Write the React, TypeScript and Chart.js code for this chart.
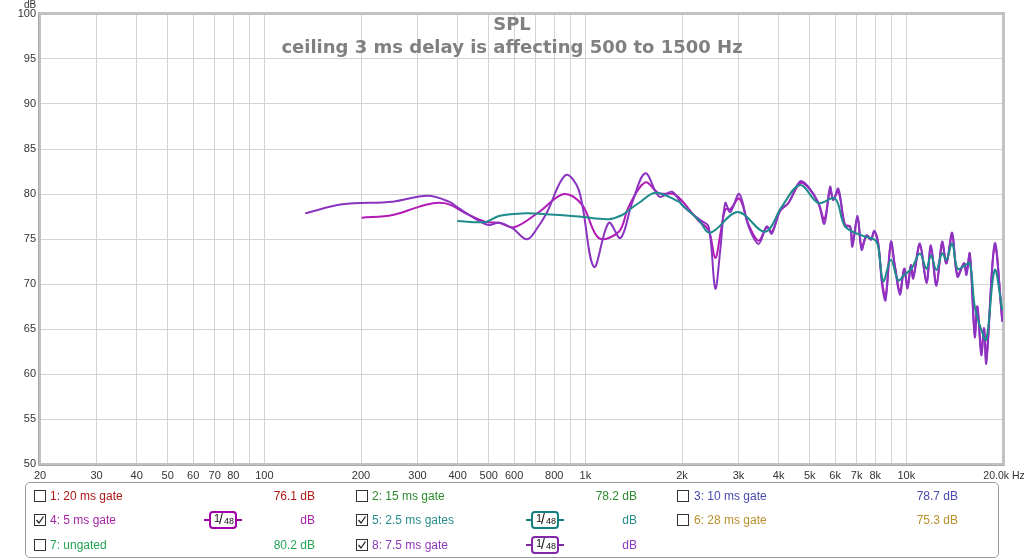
import React, { useEffect, useRef } from 'react';
import { Chart, registerables } from 'chart.js';

Chart.register(...registerables);

// ---------- axis data ----------
const xGridValues = [20, 30, 40, 50, 60, 70, 80, 90, 100, 200, 300, 400, 500, 600, 700, 800, 900, 1000, 2000, 3000, 4000, 5000, 6000, 7000, 8000, 9000, 10000, 20000];
const xGridLabels = ['20', '30', '40', '50', '60', '70', '80', '', '100', '200', '300', '400', '500', '600', '', '800', '', '1k', '2k', '3k', '4k', '5k', '6k', '7k', '8k', '', '10k', ''];
const xLastLabel = '20.0k';
const xUnit = 'Hz';
const yUnit = 'dB';
const yMin = 50;
const yMax = 100;
const yStep = 5;

// ---------- series: 5: 2.5 ms gates (teal) ----------
const tealFreq = [399, 489, 538, 652, 752, 955, 1183, 1302, 1365, 1467, 1653, 1953, 2000, 2254, 2450, 2985, 3632, 4092, 4667, 5320, 5996, 6440, 7254, 7982, 8175, 8473, 8950, 9432, 9846, 10374, 11016, 11552, 11921, 12406, 12926, 13330, 13886, 14424, 15127, 15762, 16332, 17122, 17745, 18845, 19900];
const tealDb = [77.0, 76.9, 77.55, 77.85, 77.75, 77.5, 77.2, 77.67, 78.2, 79.0, 80.15, 79.15, 78.8, 77.1, 75.7, 78.0, 75.8, 78.6, 81.0, 79.0, 79.5, 76.4, 75.4, 74.9, 74.1, 70.3, 72.7, 70.4, 71.0, 71.7, 73.4, 71.7, 73.2, 71.56, 73.4, 72.7, 74.5, 71.7, 72.0, 72.3, 67.5, 64.9, 63.8, 71.56, 67.1];

// ---------- series: 8: 7.5 ms gate (purple) ----------
const purpleFreq = [134, 175, 251, 322, 376, 404, 467, 501, 538, 592, 659, 717, 760, 868, 955, 1063, 1183, 1287, 1398, 1538, 1700, 1862, 2024, 2280, 2420, 2539, 2632, 2728, 2828, 3016, 3224, 3463, 3674, 3808, 4044, 4292, 4667, 4952, 5320, 5554, 5785, 5923, 6138, 6440, 6676, 6788, 7048, 7254, 7516, 7758, 7943, 8175, 8400, 8612, 8950, 9212, 9548, 9846, 10084, 10330, 10503, 11016, 11552, 11921, 12406, 12926, 13330, 13886, 14424, 15127, 15384, 15762, 16332, 16636, 17122, 17458, 17745, 18845, 19900];
const purpleDb = [77.85, 78.85, 79.15, 79.8, 79.15, 78.4, 77.0, 76.55, 76.8, 76.2, 74.97, 76.5, 78.0, 82.1, 80.4, 71.9, 76.8, 75.1, 79.0, 82.3, 79.7, 80.25, 78.6, 77.1, 76.4, 69.5, 73.8, 79.0, 78.0, 80.0, 76.4, 74.45, 76.4, 75.6, 78.2, 79.0, 81.4, 80.8, 79.0, 76.7, 80.8, 79.3, 80.6, 76.4, 76.4, 74.15, 77.55, 73.8, 75.4, 74.9, 75.9, 74.5, 69.9, 68.2, 74.7, 71.9, 68.8, 71.7, 69.5, 72.1, 70.6, 74.5, 70.1, 74.3, 69.8, 74.7, 72.3, 75.7, 70.8, 72.3, 71.0, 73.4, 64.1, 67.5, 62.1, 65.1, 61.2, 74.5, 65.8];

// ---------- series: 4: 5 ms gate (magenta) ----------
const magentaFreq = [201, 251, 304, 342, 376, 424, 489, 538, 600, 717, 857, 977, 1102, 1271, 1365, 1538, 1692, 1908, 2254, 2420, 2539, 2632, 2728, 2828, 3016, 3224, 3463, 3674, 3808, 4044, 4292, 4667, 4952, 5320, 5554, 5785, 5923, 6138, 6440, 6676, 6788, 7048, 7254, 7516, 7758, 7943, 8175, 8400, 8612, 8950, 9212, 9548, 9846, 10084, 10330, 10503, 11016, 11552, 11921, 12406, 12926, 13330, 13886, 14424, 15127, 15384, 15762, 16332, 16636, 17122, 17458, 17745, 18845, 19900];
const magentaDb = [77.37, 77.67, 78.6, 79.0, 78.85, 77.85, 76.9, 76.8, 76.3, 78.0, 80.0, 78.8, 75.1, 75.8, 78.6, 81.3, 80.1, 79.9, 77.0, 76.0, 72.9, 75.5, 78.3, 78.3, 79.5, 76.6, 74.8, 76.3, 75.8, 78.1, 79.0, 81.2, 80.7, 79.0, 77.2, 80.4, 79.4, 80.3, 76.6, 76.4, 74.6, 77.3, 74.1, 75.4, 75.0, 75.8, 74.4, 70.3, 68.6, 74.5, 72.0, 69.2, 71.7, 69.8, 72.0, 70.8, 74.3, 70.3, 74.1, 70.0, 74.5, 72.3, 75.4, 71.0, 72.3, 71.2, 73.3, 64.5, 67.5, 62.5, 65.0, 61.6, 74.2, 66.0];

// ---------- legend ----------
const legendNames = ['1: 20 ms gate', '2: 15 ms gate', '3: 10 ms gate', '4: 5 ms gate', '5: 2.5 ms gates', '6: 28 ms gate', '7: ungated', '8: 7.5 ms gate'];
const legendValues = ['76.1 dB', '78.2 dB', '78.7 dB', 'dB', 'dB', '75.3 dB', '80.2 dB', 'dB'];
const legendColors = ['#b01818', '#2e8b2e', '#4a4ab0', '#a626a8', '#2a8c8c', '#b8902c', '#26a458', '#8e38b8'];
const legendChecked = [false, false, false, true, true, false, false, true];
const legendSmoothing = ['', '', '', '1/48', '1/48', '', '', '1/48'];
const badgeColors = ['', '', '', '#a400aa', '#177f7f', '', '', '#8028aa'];

const titleText = 'SPL';
const subtitleText = 'ceiling 3 ms delay is affecting 500 to 1500 Hz';

const TEAL = '#1e8c8c';
const PURPLE = '#8a34c0';
const MAGENTA = '#b21ab8';

const toPoints = (f: number[], d: number[]) => f.map((v, i) => ({ x: v, y: d[i] }));

const colBox = [34, 356, 677];
const colLabel = [50, 372, 694];
const colValueRight = [315, 637, 958];
const colBadge = [204, 526, 847];
const rowY = [496, 520, 545];

const FONT = "'Liberation Sans', Arial, sans-serif";

function Badge({ color, text }: { color: string; text: string }) {
  const parts = text.split('/');
  return (
    <div style={{ position: 'relative', width: 38, height: 18 }}>
      <div style={{ position: 'absolute', left: 0, top: 8, width: 6, height: 2, background: color }} />
      <div style={{ position: 'absolute', left: 32, top: 8, width: 6, height: 2, background: color }} />
      <div
        style={{
          position: 'absolute', left: 5, top: 0, width: 28, height: 18, boxSizing: 'border-box',
          border: `2px solid ${color}`, borderRadius: 4, background: '#fff', color: '#111',
          fontFamily: FONT,
        }}
      >
        <span style={{ position: 'absolute', left: 3, top: -1, fontSize: 11 }}>{parts[0]}</span>
        <span style={{ position: 'absolute', left: 8, top: -2, fontSize: 14, fontWeight: 300 }}>/</span>
        <span style={{ position: 'absolute', left: 13, top: 3, fontSize: 9 }}>{parts[1]}</span>
      </div>
    </div>
  );
}

function CheckBox({ checked }: { checked: boolean }) {
  return (
    <div style={{ width: 12, height: 12, boxSizing: 'border-box', border: '1px solid #333', background: '#fff', position: 'relative' }}>
      {checked && (
        <svg width="10" height="10" style={{ position: 'absolute', left: 0, top: 0 }}>
          <polyline points="1.5,5 4,8 8.5,1.5" fill="none" stroke="#222" strokeWidth="1.3" />
        </svg>
      )}
    </div>
  );
}

export default function App() {
  const canvasRef = useRef<HTMLCanvasElement | null>(null);

  useEffect(() => {
    document.body.style.margin = '0';
    document.body.style.overflow = 'hidden';
    const canvas = canvasRef.current;
    if (!canvas) return;

    const overlay = {
      id: 'overlay',
      beforeDatasetsDraw(chart: any) {
        const { ctx, chartArea } = chart;
        const { left, top, right, bottom } = chartArea;
        ctx.save();
        ctx.strokeStyle = '#c2c2c2';
        ctx.lineWidth = 3;
        ctx.strokeRect(left - 0.5, top - 0.5, right - left + 1, bottom - top + 1);
        ctx.strokeStyle = '#a8a8a8';
        ctx.lineWidth = 1;
        ctx.beginPath();
        ctx.moveTo(left - 1.5, top - 1.5);
        ctx.lineTo(left - 1.5, bottom + 1.5);
        ctx.lineTo(right + 1.5, bottom + 1.5);
        ctx.stroke();
        ctx.restore();
      },
      afterDraw(chart: any) {
        const { ctx, chartArea } = chart;
        ctx.save();
        ctx.fillStyle = '#808080';
        ctx.textAlign = 'center';
        ctx.textBaseline = 'middle';
        ctx.font = "bold 18px 'DejaVu Sans', sans-serif";
        ctx.fillText(titleText, 512, 25);
        ctx.fillText(subtitleText, 512, 48);
        ctx.fillStyle = '#333';
        ctx.font = `10px ${FONT}`;
        ctx.fillText(yUnit, 30, 5);
        ctx.font = `10.5px ${FONT}`;
        ctx.textAlign = 'right';
        ctx.fillText(xLastLabel, chartArea.right + 6, 476);
        ctx.textAlign = 'left';
        ctx.fillText(xUnit, chartArea.right + 9, 476);
        ctx.restore();
      },
    };

    const chart = new Chart(canvas, {
      type: 'line',
      data: {
        datasets: [
          { label: '5: 2.5 ms gates', data: toPoints(tealFreq, tealDb), borderColor: TEAL, borderWidth: 2 },
          { label: '8: 7.5 ms gate', data: toPoints(purpleFreq, purpleDb), borderColor: PURPLE, borderWidth: 2 },
          { label: '4: 5 ms gate', data: toPoints(magentaFreq, magentaDb), borderColor: MAGENTA, borderWidth: 2 },
        ],
      },
      options: {
        animation: false,
        responsive: false,
        maintainAspectRatio: false,
        parsing: false,
        layout: { padding: { top: 14, right: 21, left: 0, bottom: 0 } },
        plugins: { legend: { display: false }, tooltip: { enabled: false }, title: { display: false } },
        elements: { point: { radius: 0 }, line: { tension: 0.35, fill: false } },
        scales: {
          x: {
            type: 'logarithmic',
            min: 20,
            max: 20000,
            afterBuildTicks: (s: any) => {
              s.ticks = xGridValues.map((v) => ({ value: v }));
            },
            afterFit: (s: any) => {
              s.height = 95;
            },
            ticks: {
              autoSkip: false,
              maxRotation: 0,
              minRotation: 0,
              padding: 5,
              color: '#333',
              font: { family: FONT, size: 11 },
              callback: (_v: any, i: number) => xGridLabels[i],
            },
            grid: { color: '#d3d3d3', lineWidth: 1, drawTicks: false },
            border: { display: false },
          },
          y: {
            type: 'linear',
            min: yMin,
            max: yMax,
            afterFit: (s: any) => {
              s.width = 40;
            },
            ticks: { stepSize: yStep, padding: 4, color: '#333', font: { family: FONT, size: 11 } },
            grid: { color: '#d3d3d3', lineWidth: 1, drawTicks: false },
            border: { display: false },
          },
        },
      },
      plugins: [overlay],
    } as any);

    return () => chart.destroy();
  }, []);

  return (
    <div style={{ position: 'relative', width: 1024, height: 559, background: '#fff', fontFamily: FONT }}>
      <canvas ref={canvasRef} width={1024} height={559} style={{ display: 'block', position: 'absolute', left: 0, top: 0 }} />
      <div
        style={{
          position: 'absolute', left: 25, top: 482, width: 974, height: 76, boxSizing: 'border-box',
          border: '1px solid #9a9a9a', borderRadius: 5,
        }}
      />
      {legendNames.map((name, i) => {
        const row = Math.floor(i / 3);
        const col = i % 3;
        const y = rowY[row];
        return (
          <React.Fragment key={name}>
            <div style={{ position: 'absolute', left: colBox[col], top: y - 6 }}>
              <CheckBox checked={legendChecked[i]} />
            </div>
            <div style={{ position: 'absolute', left: colLabel[col], top: y - 8, lineHeight: '16px', fontSize: 12, color: legendColors[i], whiteSpace: 'nowrap' }}>
              {name}
            </div>
            <div style={{ position: 'absolute', right: 1024 - colValueRight[col], top: y - 8, lineHeight: '16px', fontSize: 12, color: legendColors[i], textAlign: 'right', whiteSpace: 'nowrap' }}>
              {legendValues[i]}
            </div>
            {legendSmoothing[i] && (
              <div style={{ position: 'absolute', left: colBadge[col], top: y - 9 }}>
                <Badge color={badgeColors[i]} text={legendSmoothing[i]} />
              </div>
            )}
          </React.Fragment>
        );
      })}
    </div>
  );
}
